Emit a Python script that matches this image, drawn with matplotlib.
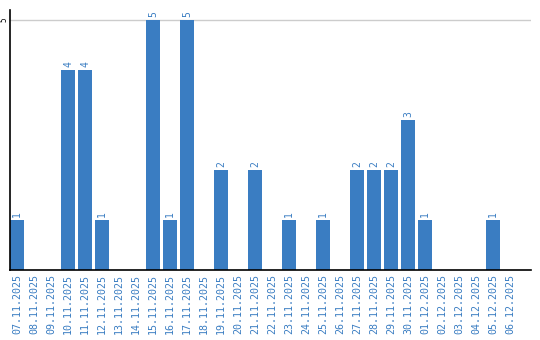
import matplotlib
matplotlib.use("Agg")
import matplotlib.pyplot as plt

dates = ["07.11.2025", "08.11.2025", "09.11.2025", "10.11.2025", "11.11.2025",
         "12.11.2025", "13.11.2025", "14.11.2025", "15.11.2025", "16.11.2025",
         "17.11.2025", "18.11.2025", "19.11.2025", "20.11.2025", "21.11.2025",
         "22.11.2025", "23.11.2025", "24.11.2025", "25.11.2025", "26.11.2025",
         "27.11.2025", "28.11.2025", "29.11.2025", "30.11.2025", "01.12.2025",
         "02.12.2025", "03.12.2025", "04.12.2025", "05.12.2025", "06.12.2025"]
counts = [1, 0, 0, 4, 4, 1, 0, 0, 5, 1,
          5, 0, 2, 0, 2, 0, 1, 0, 1, 0,
          2, 2, 2, 3, 1, 0, 0, 0, 1, 0]

blue = "#3a7dc2"
mono = "DejaVu Sans Mono"

fig = plt.figure(figsize=(5.4, 3.4), dpi=100)
ax = fig.add_axes([10 / 540, 1 - 270 / 340, 521 / 540, 260 / 340])

x = list(range(len(dates)))
ax.bar(x, counts, width=14 / 17, color=blue, zorder=2)

# value labels above the bars
for xi, c in zip(x, counts):
    if c > 0:
        ax.text(xi, c + 0.06, str(c), rotation=90, ha="center", va="bottom",
                color=blue, fontsize=7, family=mono)

ax.set_xlim(-7 / 17, 29 + 21 / 17)
ax.set_ylim(0, 5.2)
ax.set_xticks(x)
ax.set_xticklabels(dates, rotation=90, color=blue, fontsize=7.2, family=mono)
ax.set_yticks([5])
ax.set_yticklabels(["5"], rotation=90, fontsize=5.5, family=mono, va="center")
ax.tick_params(axis="x", length=0, pad=3)
ax.tick_params(axis="y", length=0, pad=1)
ax.grid(axis="y", color="#cccccc", linewidth=1, zorder=0)

for s in ["top", "right"]:
    ax.spines[s].set_visible(False)
ax.spines["left"].set_linewidth(1.2)
ax.spines["bottom"].set_linewidth(1.2)

plt.savefig("out.png", dpi=100)
